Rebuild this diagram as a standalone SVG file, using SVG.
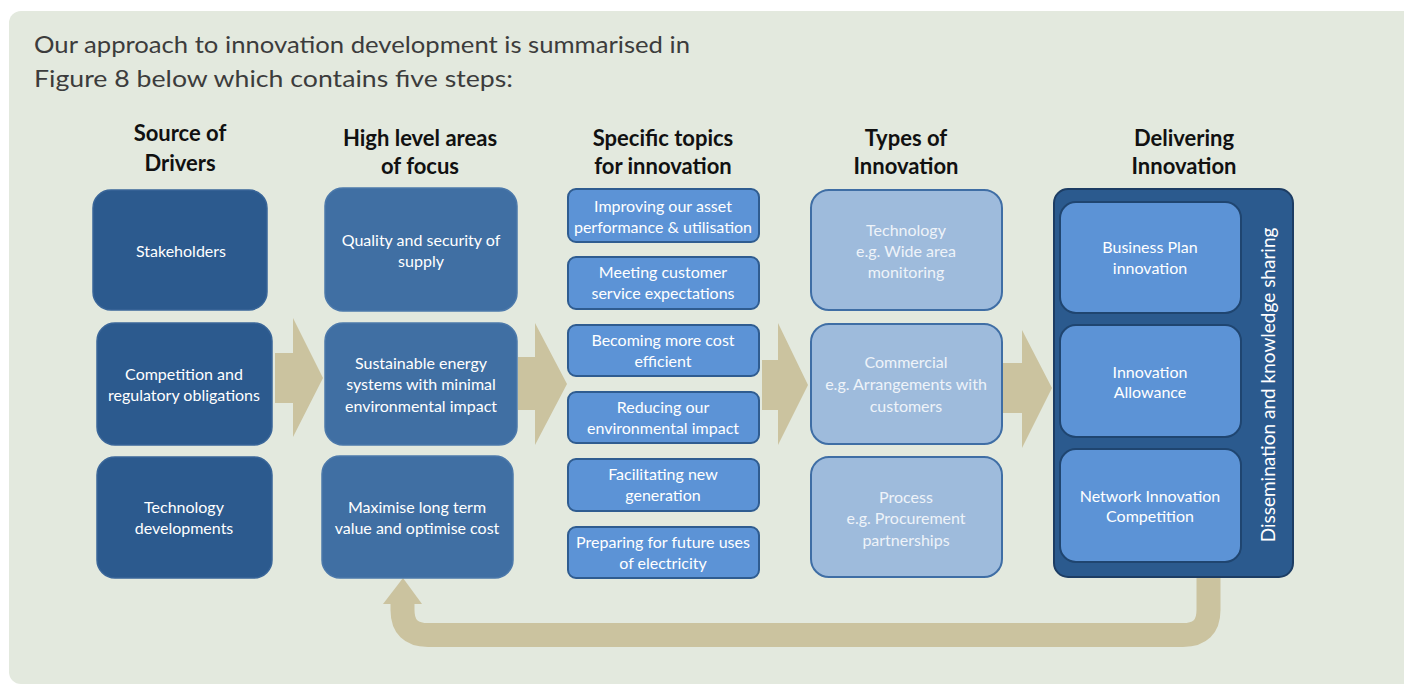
<svg xmlns="http://www.w3.org/2000/svg" width="1404" height="684" viewBox="0 0 1404 684">
<style>
.title{font-family:Lato,"Liberation Sans",sans-serif;font-size:24px;fill:#3c3c3c}
.head{font-family:Lato,"Liberation Sans",sans-serif;font-size:22px;font-weight:bold;fill:#111;text-anchor:middle}
.bt{font-family:Lato,"Liberation Sans",sans-serif;font-size:16px;fill:#fff;text-anchor:middle}
.bt4{font-family:Lato,"Liberation Sans",sans-serif;font-size:16px;fill:#eef3f9;text-anchor:middle}
.c1{fill:#2c5a8e;stroke:#3a6699;stroke-width:1.5}
.c2{fill:#406fa3;stroke:#4c79ab;stroke-width:1.5}
.c3{fill:#5c93d6;stroke:#2f5c90;stroke-width:2}
.c4{fill:#9ebbdc;stroke:#3f6ea5;stroke-width:2}
.c5o{fill:#2b5a8e;stroke:#1d3d64;stroke-width:2}
.c5i{fill:#5c93d6;stroke:#1f4570;stroke-width:2}
.arrow{fill:#cbc39f}
</style>
<rect x="0" y="0" width="1404" height="684" fill="#ffffff"/>
<rect x="9" y="11" width="1420" height="673" rx="12" fill="#e3e9de"/>
<text class="title" x="34" y="53" textLength="656" lengthAdjust="spacingAndGlyphs">Our approach to innovation development is summarised in</text>
<text class="title" x="34" y="87" textLength="479" lengthAdjust="spacingAndGlyphs">Figure 8 below which contains five steps:</text>

<g id="headings">
<text class="head" x="180" y="141">Source of</text>
<text class="head" x="180" y="171">Drivers</text>
<text class="head" x="420" y="146">High level areas</text>
<text class="head" x="420" y="174">of focus</text>
<text class="head" x="663" y="146">Specific topics</text>
<text class="head" x="663" y="174">for innovation</text>
<text class="head" x="906" y="146">Types of</text>
<text class="head" x="906" y="174">Innovation</text>
<text class="head" x="1184" y="146">Delivering</text>
<text class="head" x="1184" y="174">Innovation</text>
</g>

<g id="connectors">
<polygon class="arrow" points="275,353 293,353 293,318 323,378 293,437 293,403 275,403"/>
<polygon class="arrow" points="518,357 535,357 535,323 567,384 535,445 535,410 518,410"/>
<polygon class="arrow" points="762,360 778,360 778,323 808,385 778,445 778,410 762,410"/>
<polygon class="arrow" points="1003,363 1022,363 1022,330 1052,388 1022,448 1022,413 1003,413"/>
<path d="M1208.5,576 V610 Q1208.5,635 1183,635 H428 Q402.5,635 402.5,610 V600" fill="none" stroke="#cbc39f" stroke-width="24"/>
<polygon class="arrow" points="383,604 403,578 422,604"/>
</g>

<g id="drivers-stakeholders"><rect class="c1" x="93" y="190" width="174" height="120" rx="18"/>
<text class="bt" x="181" y="257">Stakeholders</text></g>
<g id="drivers-competition"><rect class="c1" x="97" y="323" width="175" height="122" rx="18"/>
<text class="bt" x="184" y="380">Competition and</text><text class="bt" x="184" y="401">regulatory obligations</text></g>
<g id="drivers-technology"><rect class="c1" x="97" y="457" width="175" height="121" rx="18"/>
<text class="bt" x="184" y="513">Technology</text><text class="bt" x="184" y="534">developments</text></g>

<g id="focus-quality"><rect class="c2" x="325" y="188" width="192" height="123" rx="18"/>
<text class="bt" x="421" y="246">Quality and security of</text><text class="bt" x="421" y="267">supply</text></g>
<g id="focus-sustainable"><rect class="c2" x="325" y="323" width="192" height="122" rx="18"/>
<text class="bt" x="421" y="369">Sustainable energy</text><text class="bt" x="421" y="390">systems with minimal</text><text class="bt" x="421" y="412">environmental impact</text></g>
<g id="focus-maximise"><rect class="c2" x="322" y="456" width="191" height="122" rx="18"/>
<text class="bt" x="417" y="513">Maximise long term</text><text class="bt" x="417" y="534">value and optimise cost</text></g>

<g id="topic-1"><rect class="c3" x="568" y="189" width="191" height="53" rx="8"/>
<text class="bt" x="663" y="212">Improving our asset</text><text class="bt" x="663" y="233">performance &amp; utilisation</text></g>
<g id="topic-2"><rect class="c3" x="568" y="257" width="191" height="52" rx="8"/>
<text class="bt" x="663" y="278">Meeting customer</text><text class="bt" x="663" y="299">service expectations</text></g>
<g id="topic-3"><rect class="c3" x="568" y="325" width="191" height="51" rx="8"/>
<text class="bt" x="663" y="346">Becoming more cost</text><text class="bt" x="663" y="367">efficient</text></g>
<g id="topic-4"><rect class="c3" x="568" y="392" width="191" height="51" rx="8"/>
<text class="bt" x="663" y="413">Reducing our</text><text class="bt" x="663" y="434">environmental impact</text></g>
<g id="topic-5"><rect class="c3" x="568" y="459" width="191" height="52" rx="8"/>
<text class="bt" x="663" y="480">Facilitating new</text><text class="bt" x="663" y="501">generation</text></g>
<g id="topic-6"><rect class="c3" x="568" y="527" width="191" height="51" rx="8"/>
<text class="bt" x="663" y="548">Preparing for future uses</text><text class="bt" x="663" y="569">of electricity</text></g>

<g id="type-technology"><rect class="c4" x="811" y="190" width="191" height="120" rx="18"/>
<text class="bt4" x="906" y="236">Technology</text><text class="bt4" x="906" y="257">e.g. Wide area</text><text class="bt4" x="906" y="278">monitoring</text></g>
<g id="type-commercial"><rect class="c4" x="811" y="324" width="191" height="120" rx="18"/>
<text class="bt4" x="906" y="368">Commercial</text><text class="bt4" x="906" y="390">e.g. Arrangements with</text><text class="bt4" x="906" y="412">customers</text></g>
<g id="type-process"><rect class="c4" x="811" y="457" width="191" height="120" rx="18"/>
<text class="bt4" x="906" y="503">Process</text><text class="bt4" x="906" y="524">e.g. Procurement</text><text class="bt4" x="906" y="546">partnerships</text></g>

<g id="delivering">
<rect class="c5o" x="1054" y="189" width="239" height="388" rx="14"/>
<text class="bt" transform="translate(1275,385) rotate(-90)" style="font-size:19px">Dissemination and knowledge sharing</text>
</g>
<g id="deliver-business"><rect class="c5i" x="1060" y="202" width="181" height="111" rx="16"/>
<text class="bt" x="1150" y="253">Business Plan</text><text class="bt" x="1150" y="274">innovation</text></g>
<g id="deliver-allowance"><rect class="c5i" x="1060" y="325" width="181" height="112" rx="16"/>
<text class="bt" x="1150" y="378">Innovation</text><text class="bt" x="1150" y="398">Allowance</text></g>
<g id="deliver-nic"><rect class="c5i" x="1060" y="449" width="181" height="113" rx="16"/>
<text class="bt" x="1150" y="502">Network Innovation</text><text class="bt" x="1150" y="522">Competition</text></g>
</svg>
